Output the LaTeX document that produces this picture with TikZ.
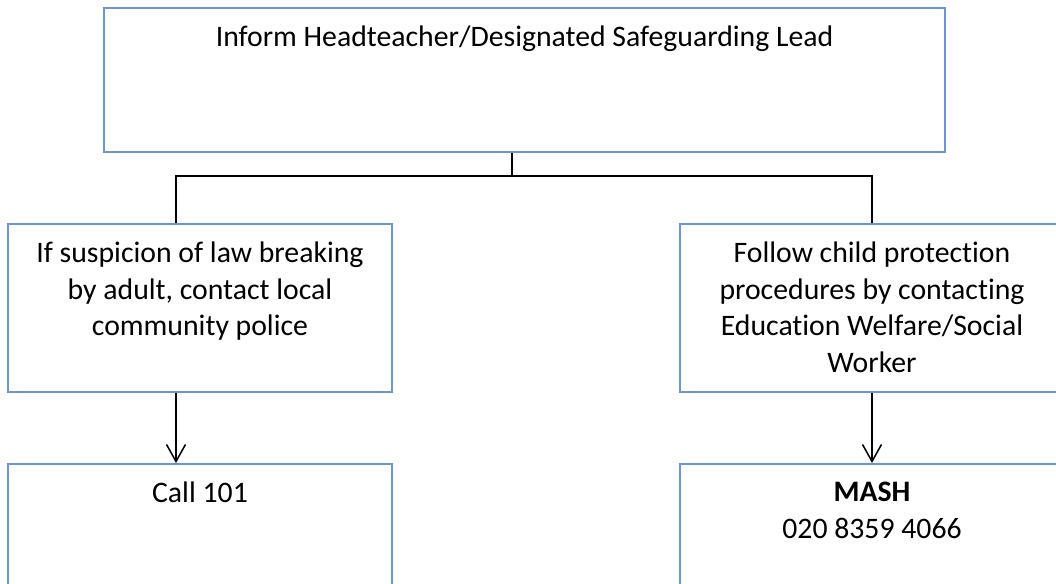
\documentclass[tikz,border=0pt]{standalone}
\usepackage{fontspec}
\setmainfont{Carlito}[Ligatures=NoCommon]
\usetikzlibrary{positioning,arrows.meta}
\definecolor{boxblue}{RGB}{100,149,230}

\begin{document}
\begin{tikzpicture}[
    x = 0.4pt, y = -0.4pt,
    > = {Straight Barb[length=6.8pt, width=7.6pt]},
    font = \fontsize{11.9}{14.6}\selectfont,
    box/.style={rectangle, draw=boxblue, line width=0.8pt, inner sep=0pt},
    wide/.style={minimum width=153.6pt, minimum height=67.2pt},
    txt/.style={anchor=north, align=center, inner sep=0pt, yshift=-7.4pt},
    link/.style={draw=black, line width=0.6pt}
]
    \clip (0,0) rectangle (1056,583);

    % boxes
    \node[box, minimum width=336.4pt, minimum height=57.6pt,
          label={[txt]north:Inform Headteacher/Designated Safeguarding Lead}]
          (inform) at (524.5,80) {};
    \node[box, wide,
          label={[txt]north:If suspicion of law breaking\\by adult, contact local\\community police}]
          (police) at (200,308) {};
    \node[box, wide,
          label={[txt]north:Follow child protection\\procedures by contacting\\Education Welfare/Social\\Worker}]
          (welfare) at (872,308) {};
    \node[box, wide,
          label={[txt]north:Call 101}]
          (call) at (200,548) {};
    \node[box, wide,
          label={[txt]north:\textbf{MASH}\\020 8359 4066}]
          (mash) at (872,548) {};

    % connectors
    \coordinate (split) at (512,176);
    \coordinate (lstem) at (176,0);
    \coordinate (rstem) at (872,0);
    \draw[link] (inform.south -| split) -- (split);
    \draw[link] (police.north -| lstem) |- (split) -| (welfare.north -| rstem);
    \draw[link, ->] (police.south -| lstem) -- (call.north -| lstem);
    \draw[link, ->] (welfare.south -| rstem) -- (mash.north -| rstem);
\end{tikzpicture}
\end{document}
